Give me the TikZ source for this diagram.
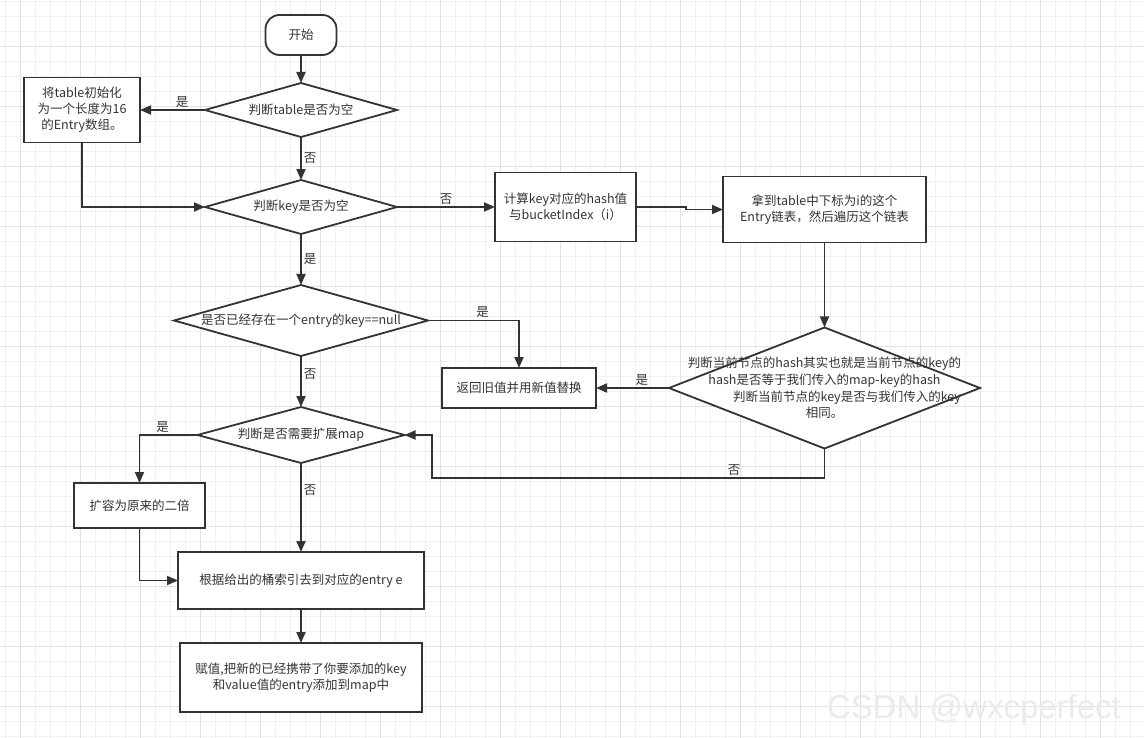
\documentclass[tikz,border=0pt]{standalone}
\usepackage{fontspec}
\setmainfont{Noto Sans CJK SC}
\newfontfamily\markfont{Liberation Sans}
\definecolor{lineGray}{HTML}{333333}
\definecolor{textGray}{HTML}{333333}
\definecolor{gridMinor}{HTML}{F1F1F1}
\definecolor{gridMajor}{HTML}{E2E2E2}
\usetikzlibrary{shapes.geometric, arrows.meta, positioning, calc}

\begin{document}
\begin{tikzpicture}[x=1pt, y=-1pt, node distance=30pt, font=\fontsize{12.5}{16}\selectfont, text=textGray]
    \tikzset{
        box/.style={rectangle, draw=lineGray, line width=1.8pt, fill=white, align=center, inner sep=2pt, outer sep=0pt},
        startbox/.style={rectangle, draw=lineGray, line width=1.8pt, fill=white, rounded corners=14pt, inner sep=2pt, outer sep=0pt},
        decision/.style={diamond, draw=lineGray, line width=1.8pt, fill=white, inner sep=0pt, outer sep=0pt},
        arrow/.style={draw=lineGray, line width=1.8pt, -{Triangle[length=11pt, width=9pt]}},
        yesno/.style={inner sep=2pt, font=\fontsize{12.5}{14}\selectfont}
    }
    \fill[white] (0,0) rectangle (1144,738);
    \useasboundingbox (0,0) rectangle (1144,738);
    \foreach \x in {5,20,...,1144} \draw[gridMinor, line width=0.9pt] (\x,0) -- (\x,738);
    \foreach \y in {1.7,16.7,...,738} \draw[gridMinor, line width=0.9pt] (0,\y) -- (1144,\y);
    \foreach \x in {20,80,...,1144} \draw[gridMajor, line width=0.9pt] (\x,0) -- (\x,738);
    \foreach \y in {46.7,106.7,...,738} \draw[gridMajor, line width=0.9pt] (0,\y) -- (1144,\y);

    \node [font=\markfont\fontsize{33}{33}\selectfont, text=black!8] (mark) at (974,710) {CSDN @wxcperfect};

    \node [startbox, minimum width=71pt, minimum height=40pt] (start) at (301,35) {开始};
    \node [decision, minimum width=192pt, minimum height=54pt, below=28pt of start, label={center:{判断table是否为空}}] (tblnull) {};
    \node [box, minimum width=116pt, minimum height=65pt, left=65pt of tblnull] (init) {将table初始化\\为一个长度为16\\的Entry数组。};
    \node [decision, minimum width=192pt, minimum height=54pt, below=43pt of tblnull, label={center:{判断key是否为空}}] (keynull) {};
    \node [box, minimum width=141pt, minimum height=69pt, right=98pt of keynull] (hash) {计算key对应的hash值\\与bucketIndex（i）};
    \node [box, minimum width=203pt, minimum height=66pt, right=87pt of hash, yshift=-2.5pt] (walk) {拿到table中下标为i的这个\\Entry链表，然后遍历这个链表};
    \node [decision, minimum width=311pt, minimum height=121pt, below=85pt of walk, label={[align=center, font=\fontsize{12.5}{16.7}\selectfont]center:{判断当前节点的hash其实也就是当前节点的key的\\hash是否等于我们传入的map-key的hash\\\hspace*{3.6em}判断当前节点的key是否与我们传入的key\\相同。}}] (same) {};
    \node [box, minimum width=154pt, minimum height=40pt, left=73pt of same] (replace) {返回旧值并用新值替换};
    \node [decision, minimum width=254pt, minimum height=71pt, below=51pt of keynull, label={center:{是否已经存在一个entry的key==null}}] (nullkey) {};
    \node [decision, minimum width=207pt, minimum height=56pt, below=51pt of nullkey, label={center:{判断是否需要扩展map}}] (resize) {};
    \node [box, minimum width=131pt, minimum height=45pt] (double) at (139.5,505.5) {扩容为原来的二倍};
    \node [box, minimum width=246pt, minimum height=57pt, below=89pt of resize] (locate) {根据给出的桶索引去到对应的entry e};
    \node [box, minimum width=242pt, minimum height=69pt, below=34pt of locate] (assign) {赋值,把新的已经携带了你要添加的key\\和value值的entry添加到map中};
    \coordinate (back) at (432,478);

    \draw [arrow] (start) -- (tblnull);
    \draw [arrow] (tblnull) -- node[yesno, pos=0.35, above]{是} (init);
    \draw [arrow] (tblnull) -- node[yesno, right]{否} (keynull);
    \draw [arrow] (init) |- (keynull);
    \draw [arrow] (keynull) -- node[yesno, above]{否} (hash);
    \draw [arrow] (hash.east) -- ++(50,0) |- (walk.west);
    \draw [arrow] (walk) -- (same);
    \draw [arrow] (same) -- node[yesno, pos=0.37, above]{是} (replace);
    \draw [arrow] (same.south) |- node[yesno, pos=0.615, above]{否} (back) |- (resize.east);
    \draw [arrow] (keynull) -- node[yesno, right]{是} (nullkey);
    \draw [arrow] (nullkey) -| node[yesno, pos=0.3, above]{是} (replace);
    \draw [arrow] (nullkey) -- node[yesno, pos=0.35, right]{否} (resize);
    \draw [arrow] (resize) -| node[yesno, pos=0.3, above]{是} (double);
    \draw [arrow] (resize) -- node[yesno, pos=0.3, right]{否} (locate);
    \draw [arrow] (double) |- (locate);
    \draw [arrow] (locate) -- (assign);
\end{tikzpicture}
\end{document}
